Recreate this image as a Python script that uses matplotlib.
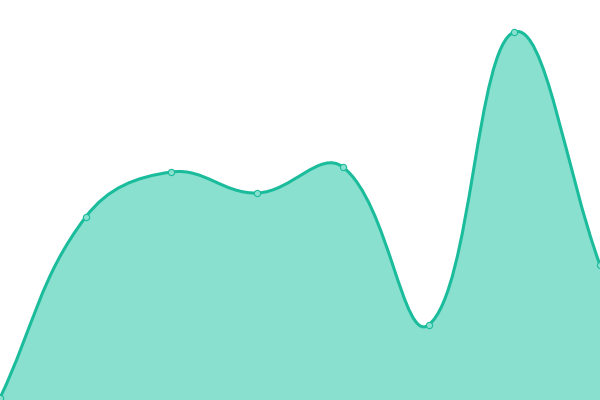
import numpy as np
import matplotlib
matplotlib.use("Agg")
import matplotlib.pyplot as plt
from matplotlib.path import Path
from matplotlib.patches import PathPatch

# values
labels = ["A", "B", "C", "D", "E", "F", "G", "H"]
values = [2, 183, 228, 207, 233, 75, 368, 135]

line_color = "#1abc9c"
fill_color = "#8ae0cf"
tension = 0.4

fig = plt.figure(figsize=(6, 4), dpi=100)
ax = fig.add_axes([0, 0, 1, 1])
ax.set_xlim(0, len(values) - 1)
ax.set_ylim(0, 400)
ax.axis("off")

x = np.arange(len(values), dtype=float)
y = np.array(values, dtype=float)

# control points in pixel space (chart.js style spline)
sx = 600 / (len(values) - 1)
px, py = x * sx, y
pts = np.column_stack([px, py])
n = len(pts)
cp_prev = pts.copy()
cp_next = pts.copy()
for i in range(n):
    p0 = pts[i - 1] if i > 0 else pts[i]
    p1 = pts[i]
    p2 = pts[i + 1] if i < n - 1 else pts[i]
    d01 = np.hypot(*(p1 - p0))
    d12 = np.hypot(*(p2 - p1))
    tot = d01 + d12
    s01 = d01 / tot if tot else 0
    s12 = d12 / tot if tot else 0
    cp_prev[i] = p1 - tension * s01 * (p2 - p0)
    cp_next[i] = p1 + tension * s12 * (p2 - p0)
cp_prev[:, 1] = np.clip(cp_prev[:, 1], 0, 400)
cp_next[:, 1] = np.clip(cp_next[:, 1], 0, 400)

verts = [tuple(pts[0])]
codes = [Path.MOVETO]
for i in range(n - 1):
    verts += [tuple(cp_next[i]), tuple(cp_prev[i + 1]), tuple(pts[i + 1])]
    codes += [Path.CURVE4] * 3
verts_d = [(vx / sx, vy) for vx, vy in verts]

fill_verts = verts_d + [(x[-1], 0), (x[0], 0), verts_d[0]]
fill_codes = codes + [Path.LINETO, Path.LINETO, Path.CLOSEPOLY]
ax.add_patch(PathPatch(Path(fill_verts, fill_codes), facecolor=fill_color,
                       edgecolor="none"))
ax.add_patch(PathPatch(Path(verts_d, codes), facecolor="none",
                       edgecolor=line_color, lw=2.2))
ax.plot(x, y, "o", ms=4.5, mfc=fill_color, mec=line_color, mew=0.8)

plt.savefig("out.png")
